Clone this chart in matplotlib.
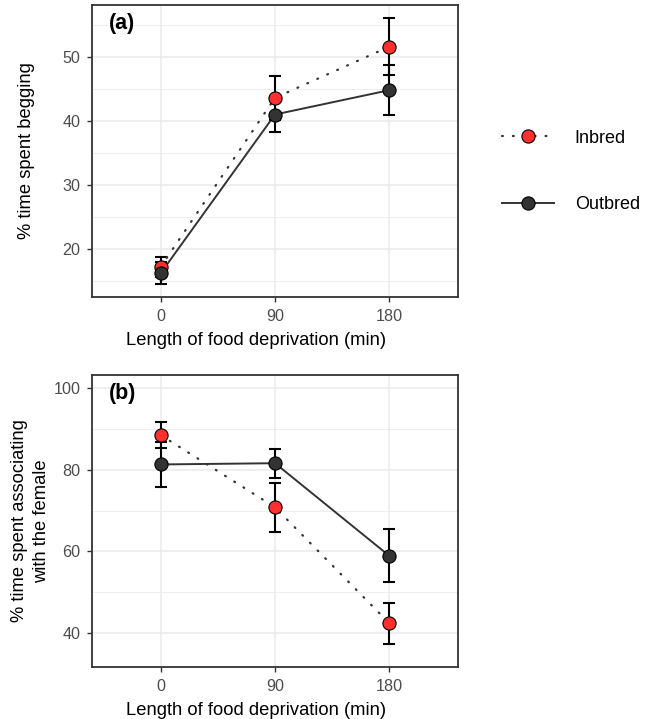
import matplotlib
matplotlib.use("Agg")
import matplotlib.pyplot as plt
from matplotlib.lines import Line2D
import numpy as np

plt.rcParams['font.family'] = ['Liberation Sans', 'DejaVu Sans']

x_labels = ["0", "90", "180"]

# Panel (a): % time spent begging
beg_inbred = [17.2, 43.6, 51.6]
beg_inbred_err = [1.5, 3.4, 4.45]
beg_outbred = [16.2, 41.0, 44.8]
beg_outbred_err = [1.7, 2.8, 3.9]

# Panel (b): % time spent associating with the female
assoc_inbred = [88.5, 70.8, 42.4]
assoc_inbred_err = [3.1, 6.0, 5.0]
assoc_outbred = [81.3, 81.6, 58.9]
assoc_outbred_err = [5.5, 3.6, 6.5]

INB_COL = "#FF3030"
OUT_COL = "#333333"
DARK = "#333333"
GRAY_TXT = "#4D4D4D"
GRID = "#EBEBEB"

fig = plt.figure(figsize=(6.54, 7.19), dpi=100)
ax_a = fig.add_axes([92/654, 1-297/719, 366/654, 292/719])
ax_b = fig.add_axes([92/654, 1-667/719, 366/654, 292/719])

xpos = np.arange(len(x_labels))


def draw(ax, inb, inb_err, outb, outb_err, ylim, major, minor, ylabel, tag, ylab_x):
    ax.set_xlim(-0.6, 2.6)
    ax.set_ylim(*ylim)
    ax.set_yticks(major)
    ax.set_yticks(minor, minor=True)
    ax.set_xticks(xpos)
    ax.set_xticklabels(x_labels)
    ax.grid(True, which='major', color=GRID, lw=1.1, zorder=0)
    ax.grid(True, which='minor', axis='y', color=GRID, lw=0.6, zorder=0)
    ax.set_axisbelow(True)
    for s in ax.spines.values():
        s.set_color(DARK)
        s.set_linewidth(1.3)
    ax.tick_params(axis='both', which='major', length=3.8, width=1.0, color=DARK,
                   labelcolor=GRAY_TXT, labelsize=11.6, pad=4.6)
    ax.tick_params(axis='both', which='minor', length=0)
    # error bars
    ax.errorbar(xpos, inb, yerr=inb_err, fmt='none', ecolor='black', elinewidth=1.5,
                capsize=4.3, capthick=1.5, zorder=2)
    ax.errorbar(xpos, outb, yerr=outb_err, fmt='none', ecolor='black', elinewidth=1.5,
                capsize=4.3, capthick=1.5, zorder=2)
    # lines
    ax.plot(xpos, inb, color=DARK, lw=1.6, linestyle=(0, (0.4, 4.5)),
            dash_capstyle='round', zorder=3)
    ax.plot(xpos, outb, color=DARK, lw=1.4, linestyle='-', zorder=3)
    # points
    ax.plot(xpos, inb, 'o', ms=9.5, mfc=INB_COL, mec='black', mew=0.8, zorder=4)
    ax.plot(xpos, outb, 'o', ms=9.5, mfc=OUT_COL, mec='black', mew=0.8, zorder=5)
    ax.set_xlabel("Length of food deprivation (min)", fontsize=13.2, color='black')
    ax.xaxis.set_label_coords(0.448, -0.12)
    ylab = ax.set_ylabel(ylabel, fontsize=13.2, color='black')
    ylab.set_linespacing(1.35)
    ax.yaxis.set_label_coords(ylab_x, 0.5)
    ax.text(0.046, 0.935, tag, transform=ax.transAxes, fontsize=15.5, fontweight='bold',
            ha='left', va='center')


draw(ax_a, beg_inbred, beg_inbred_err, beg_outbred, beg_outbred_err,
     (12.5, 58.1), [20, 30, 40, 50], [15, 25, 35, 45, 55],
     "% time spent begging", "(a)", -0.157)
draw(ax_b, assoc_inbred, assoc_inbred_err, assoc_outbred, assoc_outbred_err,
     (31.7, 103.2), [40, 60, 80, 100], [50, 70, 90],
     "% time spent associating\nwith the female", "(b)", -0.115)

# legend
handles = [
    Line2D([0], [0], color=DARK, lw=1.6, linestyle=(0, (0.4, 4.5)), dash_capstyle='round',
           marker='o', ms=9.5, mfc=INB_COL, mec='black', mew=0.8),
    Line2D([0], [0], color=DARK, lw=1.4, linestyle='-',
           marker='o', ms=9.5, mfc=OUT_COL, mec='black', mew=0.8),
]
fig.legend(handles, ["Inbred", "Outbred"], loc='center left',
           bbox_to_anchor=(486/654, 1-171.5/719), frameon=False, fontsize=13,
           handlelength=2.85, handletextpad=1.16, labelspacing=2.75)

fig.savefig("out.png", dpi=100)
